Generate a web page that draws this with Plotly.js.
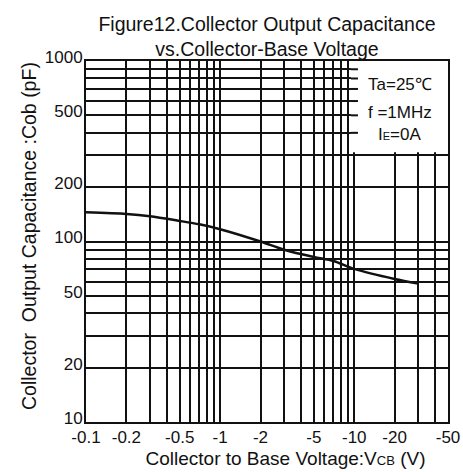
<!DOCTYPE html>
<html>
<head>
<meta charset="utf-8">
<script src="https://cdn.plot.ly/plotly-3.0.1.min.js"></script>
<style>
  html, body { margin: 0; padding: 0; background: #fff; }
  #chart { width: 463px; height: 472px; }
</style>
</head>
<body>
<div id="chart"></div>
<script>
// ---- data ----
const voltage = [0.1, 0.2, 0.3, 0.5, 0.7, 1, 2, 3, 5, 7, 10, 20, 30];          // |Vcb| (V)
const cob     = [145, 142, 138, 130, 124.5, 117, 100, 90, 82, 78, 70.5, 62, 58.5]; // pF

const xGrid = [0.1,0.2,0.3,0.4,0.5,0.6,0.7,0.8,0.9,1,2,3,4,5,6,7,8,9,10,20,30,40,50];
const xLabelled = [0.1,0.2,0.5,1,2,5,10,20,50];
const xLabels = ['-0.1','-0.2','-0.5','-1','-2','-5','-10','-20','-50'];

const yGrid = [10,20,30,40,50,60,70,80,90,100,200,300,400,500,600,700,800,900,1000];
const yLabelled = [10,20,50,100,200,500,1000];
const yLabels = ['10','20','50','100','200','500','1000'];

const conditions = ['Ta=25℃', 'f =1MHz', 'I<span style="font-size:11px">E</span>=0A'];

// ---- build tick text ----
const xText = xGrid.map(v => { const i = xLabelled.indexOf(v); return i >= 0 ? xLabels[i] : ''; });
const yText = yGrid.map(v => { const i = yLabelled.indexOf(v); return i >= 0 ? yLabels[i] : ''; });

// ---- condition box (layout constants) ----
const boxX0 = 9.45, boxX1 = 50, boxY0 = 312, boxY1 = 1000;
const ink = '#111';
const fam = 'Liberation Sans, Arial, sans-serif';

const shapes = [{
  type: 'rect', xref: 'x', yref: 'y', x0: boxX0, x1: boxX1, y0: boxY0, y1: boxY1,
  fillcolor: '#fff', line: {width: 0}, layer: 'between'
}];
yGrid.filter(v => v > boxY0 && v < boxY1).forEach(v => {
  shapes.push({type:'line', xref:'x', yref:'y', xsizemode:'pixel', xanchor: boxX0, x0: 0, x1: 7,
               y0: v, y1: v, line:{color: ink, width: 2}, layer:'above'});
  shapes.push({type:'line', xref:'x', yref:'y', xsizemode:'pixel', xanchor: boxX1, x0: -8, x1: 0,
               y0: v, y1: v, line:{color: ink, width: 2}, layer:'above'});
});
xGrid.filter(v => v > boxX0 && v < boxX1).forEach(v => {
  shapes.push({type:'line', xref:'x', yref:'y', ysizemode:'pixel', yanchor: boxY1, y0: -6, y1: 2,
               x0: v, x1: v, line:{color: ink, width: 2}, layer:'above'});
});

const annPos = [0.935, 0.858, 0.797];
const annotations = conditions.map((t, i) => ({
  text: t, xref: 'paper', yref: 'paper', x: 0.867, y: annPos[i],
  xanchor: 'center', yanchor: 'middle', showarrow: false,
  font: {family: fam, size: 17, color: ink}
}));

const trace = {
  x: voltage, y: cob, type: 'scatter', mode: 'lines',
  line: {color: ink, width: 2.5, shape: 'spline', smoothing: 0.8},
  hoverinfo: 'skip'
};

const axisCommon = {
  type: 'log', showgrid: true, gridcolor: ink, gridwidth: 2,
  showline: true, mirror: true, linecolor: ink, linewidth: 2,
  ticks: '', zeroline: false, tickmode: 'array',
  tickfont: {family: fam, size: 17, color: ink}
};

const layout = {
  width: 463, height: 472,
  margin: {l: 86, r: 15, t: 61, b: 50},
  paper_bgcolor: '#fff', plot_bgcolor: '#fff',
  showlegend: false,
  font: {family: fam, color: ink},
  title: {
    text: 'Figure12.Collector Output Capacitance<br>vs.Collector-Base Voltage',
    font: {size: 19.5, color: ink}, x: 0.5, xref: 'paper', xanchor: 'center',
    y: 1 - 31/472, yref: 'container', yanchor: 'middle'
  },
  xaxis: Object.assign({}, axisCommon, {
    range: [Math.log10(0.1), Math.log10(50)],
    tickvals: xGrid, ticktext: xText, ticklabelstandoff: -1,
    title: {text: '&nbsp;&nbsp;&nbsp;&nbsp;&nbsp;&nbsp;&nbsp;Collector to Base Voltage:V<span style="font-size:13px">CB</span> (V)',
            font: {size: 19, color: ink}, standoff: 5}
  }),
  yaxis: Object.assign({}, axisCommon, {
    range: [1, 3],
    tickvals: yGrid, ticktext: yText, ticklabelstandoff: -2, ticklabelshift: -4,
    title: {text: '&nbsp;&nbsp;Collector  Output Capacitance :Cob (pF)',
            font: {size: 19.5, color: ink}, standoff: 3}
  }),
  shapes: shapes,
  annotations: annotations
};

Plotly.newPlot('chart', [trace], layout, {displayModeBar: false, staticPlot: true});
</script>
</body>
</html>
